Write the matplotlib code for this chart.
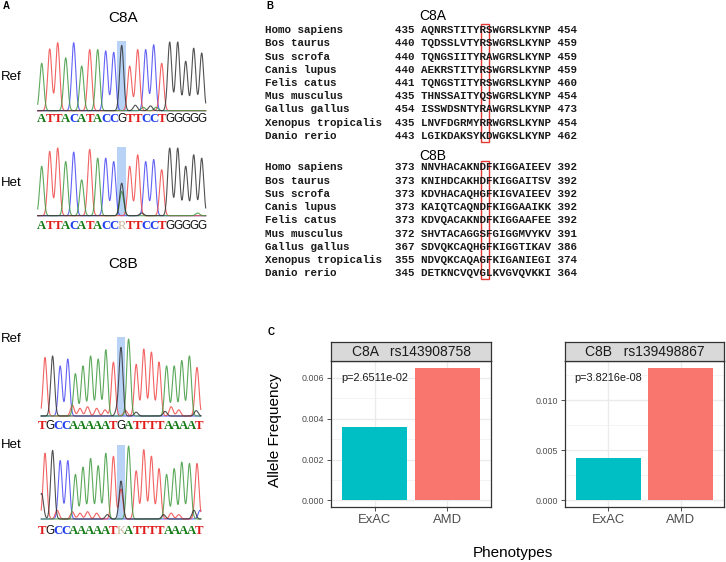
"""Sanger traces, C8A/C8B alignments and allele frequency bars."""

import matplotlib
matplotlib.use("Agg")
import matplotlib.pyplot as plt
from matplotlib.patches import Rectangle
import numpy as np

plt.rcParams.update({
    "font.family": ["Liberation Sans", "DejaVu Sans"],
    "font.size": 9,
})

W, H = 726, 562

# ---- panel A data: called bases and peak heights (relative) ----
c8a_ref_seq = "ATTACATACCGTTCCTGGGGG"
c8a_ref_peaks = [0.69, 0.90, 0.99, 0.77, 0.99, 0.65, 0.89, 0.89, 0.87, 0.85, 0.95,
                 0.65, 0.89, 0.89, 0.96, 0.69, 1.00, 1.00, 0.72, 0.91, 0.84]
c8a_ref_minor = [(11.7, "G", 0.08), (12.7, "A", 0.05), (13.6, "G", 0.07), (14.3, "A", 0.05)]

c8a_het_seq = "ATTACATACCRTTCCTGGGGG"
c8a_het_peaks = [0.73, 0.95, 1.00, 0.80, 0.94, 0.53, 0.98, 0.85, 0.85, 0.80, 0.0,
                 0.73, 0.90, 0.80, 0.83, 0.68, 1.00, 1.00, 0.73, 0.90, 0.85]
c8a_het_mixed = {"G": 0.48, "A": 0.36}
c8a_het_minor = [(12.5, "G", 0.04), (19.5, "A", 0.04)]

c8b_ref_seq = "TGCCAAAAATGATTTTAAAAT"
c8b_ref_peaks = [0.76, 0.78, 0.65, 0.74, 0.55, 0.65, 0.78, 0.74, 0.86, 0.70, 0.88,
                 1.00, 0.67, 0.87, 0.83, 0.70, 0.65, 0.65, 0.72, 0.78, 0.63]
c8b_ref_minor = [(3.6, "T", 0.14), (4.6, "T", 0.10), (5.6, "T", 0.12), (6.8, "T", 0.10),
                 (7.9, "T", 0.08), (9.5, "G", 0.08), (10.6, "T", 0.07), (12.0, "G", 0.05),
                 (15.8, "G", 0.06), (16.6, "T", 0.12), (17.6, "T", 0.08), (19.9, "G", 0.07)]

c8b_het_seq = "TGCCAAAAATKATTTTAAAAT"
c8b_het_peaks = [0.90, 0.94, 0.80, 0.80, 0.61, 0.71, 0.83, 0.73, 0.90, 0.86, 0.0,
                 1.00, 0.66, 0.95, 0.86, 0.69, 0.61, 0.69, 0.78, 0.76, 0.76]
c8b_het_mixed = {"G": 0.52, "T": 0.41}
c8b_het_minor = [(-0.45, "G", 0.35), (1.6, "T", 0.12), (3.6, "T", 0.10), (4.6, "T", 0.08),
                 (5.6, "T", 0.10), (6.8, "T", 0.08), (8.2, "G", 0.06), (15.6, "G", 0.06),
                 (16.6, "T", 0.08), (17.6, "T", 0.06), (19.6, "G", 0.12), (20.4, "C", 0.12)]

# ---- panel B data: alignments ----
species = ["Homo sapiens", "Bos taurus", "Sus scrofa", "Canis lupus", "Felis catus",
           "Mus musculus", "Gallus gallus", "Xenopus tropicalis", "Danio rerio"]
c8a_start = [435, 440, 440, 440, 441, 435, 454, 435, 443]
c8a_aln = ["AQNRSTITYRSWGRSLKYNP", "TQDSSLVTYRSWGRSLKYNP", "TQNGSIITYRAWGRSLKYNP",
           "AEKRSTITYRSWGRSLKYNP", "TQNGSTITYRSWGRSLKYNP", "THNSSAITYQSWGRSLKYNP",
           "ISSWDSNTYRAWGRSLKYNP", "LNVFDGRMYRRWGRSLKYNP", "LGIKDAKSYKDWGKSLKYNP"]
c8a_end = [454, 459, 459, 459, 460, 454, 473, 454, 462]
c8b_start = [373, 373, 373, 373, 373, 372, 367, 355, 345]
c8b_aln = ["NNVHACAKNDFKIGGAIEEV", "KNIHDCAKHDFKIGGAITSV", "KDVHACAQHGFKIGVAIEEV",
           "KAIQTCAQNDFKIGGAAIKK", "KDVQACAKNDFKIGGAAFEE", "SHVTACAGGSFGIGGMVYKV",
           "SDVQKCAQHGFKIGGTIKAV", "NDVQKCAQAGFKIGANIEGI", "DETKNCVQVGLKVGVQVKKI"]
c8b_end = [392, 392, 392, 392, 392, 391, 386, 374, 364]
site_index = 9  # mutated residue within the aligned window

# ---- panel C data ----
phenotypes = ["ExAC", "AMD"]
c8a_freq = [0.0036, 0.0065]
c8b_freq = [0.0042, 0.01328]
c8a_p = "p=2.6511e-02"
c8b_p = "p=3.8216e-08"

BASE_COLORS = {"A": "#3f9a3f", "C": "#4848f4", "G": "#333333", "T": "#f04848"}
TEXT_COLORS = {"A": "#157a15", "C": "#1f3ff0", "G": "#111111", "T": "#e01c1c"}
AMBIG_COLOR = "#c9b99b"
HL_COLOR = "#b9d3f6"
SIGMA = 0.25


def box(x0, y0, x1, y1):
    """Pixel box (top-left origin) -> figure fraction rect."""
    return [x0 / W, 1 - y1 / H, (x1 - x0) / W, (y1 - y0) / H]


fig = plt.figure(figsize=(W / 100, H / 100), dpi=100)


def draw_chrom(seq, peaks, mixed, minor, x0, dx, base, top, text_y, letter_dx):
    n = len(seq)
    ax = fig.add_axes(box(x0 - dx * 0.5, top, x0 + dx * (n - 0.5), base))
    ax.set_xlim(-0.5, n - 0.5)
    ax.set_ylim(0, 1)
    ax.axis("off")
    x = np.linspace(-0.5, n - 0.5, 800)
    traces = {b: np.zeros_like(x) for b in "ACGT"}

    def add(pos, b, h):
        traces[b] += h * np.exp(-0.5 * ((x - pos) / SIGMA) ** 2)

    for i, (b, h) in enumerate(zip(seq, peaks)):
        if b in traces:
            add(i, b, h)
    amb = [i for i, b in enumerate(seq) if b not in traces]
    for i in amb:
        for b, h in mixed.items():
            add(i, b, h)
    for pos, b, h in minor:
        add(pos, b, h)

    ax.axvspan(9.45, 10.55, ymin=0, ymax=1.02, color=HL_COLOR, lw=0, zorder=0,
               clip_on=False)
    for b in "CTAG":
        ax.plot(x, traces[b], color=BASE_COLORS[b], lw=0.8, alpha=0.85,
                clip_on=False, zorder=2)

    ty = -(text_y - base) / (base - top)
    for i, ch in enumerate(seq):
        lx = 10 + (i - 10) * letter_dx / dx
        if ch == "G":
            color = TEXT_COLORS[ch]
            kw = dict(family="Liberation Sans", weight="normal", fontsize=8.4)
        elif ch in TEXT_COLORS:
            color = TEXT_COLORS[ch]
            kw = dict(family="Liberation Serif", weight="bold", fontsize=9.2)
        else:
            color = AMBIG_COLOR
            kw = dict(family="Liberation Serif", weight="normal", fontsize=9.2)
        ax.text(lx, ty, ch, ha="center", va="center", color=color,
                clip_on=False, **kw)


def ftext(x, y, s, **kw):
    fig.text(x / W, 1 - y / H, s, **kw)


# ---- panel A ----
ftext(3, 6, "A", fontsize=7, weight="bold", va="center")
ftext(123, 18, "C8A", fontsize=11, ha="center", va="center")
ftext(123, 264, "C8B", fontsize=11, ha="center", va="center")
for y, lab in [(77, "Ref"), (183, "Het"), (339, "Ref"), (445, "Het")]:
    ftext(1, y, lab, fontsize=9.5, va="center")

draw_chrom(c8a_ref_seq, c8a_ref_peaks, {}, c8a_ref_minor, 41.7, 8.0, 110.7, 42, 119.5, 8.0)
draw_chrom(c8a_het_seq, c8a_het_peaks, c8a_het_mixed, c8a_het_minor,
           41.7, 8.0, 215.7, 148, 226, 8.0)
draw_chrom(c8b_ref_seq, c8b_ref_peaks, {}, c8b_ref_minor, 45, 7.6, 416, 339, 426, 7.85)
draw_chrom(c8b_het_seq, c8b_het_peaks, c8b_het_mixed, c8b_het_minor,
           45, 7.6, 519, 446, 531, 7.85)

# ---- panel B ----
ftext(266, 6, "B", fontsize=7, weight="bold", va="center")
CW = 6.55  # px per character column
axb = fig.add_axes(box(265, 0, 265 + 50 * CW, 290))
axb.set_xlim(0, 50)
axb.set_ylim(290, 0)
axb.axis("off")


def alignment_block(title, title_y, row0, starts, seqs, ends):
    axb.text(25.6, title_y, title, fontsize=10,
             ha="center", va="center", family="Liberation Sans")
    for k, (sp, st, sq, en) in enumerate(zip(species, starts, seqs, ends)):
        line = f"{sp:<20}{st:<4}{sq} {en}"
        axb.text(0, row0 + k * 13.25, line, fontsize=7.86, family="Liberation Mono",
                 weight="bold", ha="left", va="center", color="#1a1a1a")
    col = 24 + site_index
    axb.add_patch(Rectangle((col - 0.05, row0 - 6.5), 1.3, 8 * 13.25 + 12,
                            fill=False, edgecolor="#e53a33", lw=1.0))


alignment_block("C8A", 16, 30, c8a_start, c8a_aln, c8a_end)
alignment_block("C8B", 156, 167.3, c8b_start, c8b_aln, c8b_end)

# ---- panel C ----
ftext(268, 332, "C", fontsize=7, weight="bold", va="center")
bar_colors = ["#00BFC4", "#F8766D"]


def draw_facet(x0, x1, title, vals, ptxt, ticks):
    ax = fig.add_axes(box(x0, 361, x1, 507))
    xs = np.arange(len(phenotypes))
    ax.bar(xs, vals, width=0.9, color=bar_colors, zorder=2)
    vmax = max(vals)
    ax.set_ylim(-0.05 * vmax, 1.05 * vmax)
    ax.set_xlim(-0.6, len(phenotypes) - 0.4)
    ax.set_xticks(xs)
    ax.set_xticklabels(phenotypes, fontsize=9.4, color="#4d4d4d")
    ax.set_yticks(ticks)
    ax.set_yticklabels([f"{t:.3f}" for t in ticks], fontsize=6.4, color="#4d4d4d")
    step = ticks[1] - ticks[0]
    minors = [t + step / 2 for t in ticks]
    ax.set_yticks([m for m in minors if m < 1.05 * vmax], minor=True)
    ax.set_facecolor("white")
    ax.grid(which="major", color="#ebebeb", lw=1.0, zorder=0)
    ax.grid(which="minor", axis="y", color="#f2f2f2", lw=0.6, zorder=0)
    ax.set_axisbelow(True)
    for s in ax.spines.values():
        s.set_color("#333333")
        s.set_linewidth(0.9)
    ax.tick_params(which="major", length=3, width=0.6, color="#333333", pad=2)
    ax.tick_params(which="minor", length=0)
    ax.text(0, 0.925 * vmax, ptxt, ha="center", va="center", fontsize=7.8,
            color="#1a1a1a", zorder=3)

    strip = fig.add_axes(box(x0, 342, x1, 361))
    strip.set_facecolor("#d9d9d9")
    strip.set_xticks([])
    strip.set_yticks([])
    for s in strip.spines.values():
        s.set_color("#333333")
        s.set_linewidth(0.9)
    strip.text(0.5, 0.5, title, ha="center", va="center", fontsize=10,
               color="#1a1a1a", transform=strip.transAxes)


draw_facet(331, 491, "C8A   rs143908758", c8a_freq, c8a_p, [0.0, 0.002, 0.004, 0.006])
draw_facet(565, 724, "C8B   rs139498867", c8b_freq, c8b_p, [0.0, 0.005, 0.010])

ftext(275, 430, "Allele Frequency", fontsize=11, rotation=90, ha="center", va="center")
ftext(513, 553, "Phenotypes", fontsize=11, ha="center", va="center")

fig.savefig("out.png", dpi=100)
